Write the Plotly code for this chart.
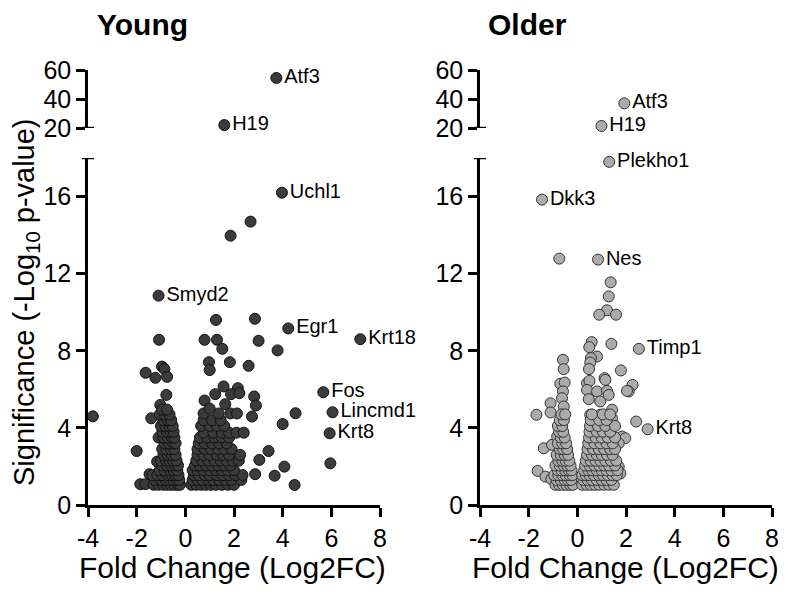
import plotly.graph_objects as go

# ---------------- DATA ----------------
# Young: labelled genes
young_genes = ["Atf3", "H19", "Uchl1", "Smyd2", "Egr1", "Krt18", "Fos", "Lincmd1", "Krt8"]
young_gene_x = [3.74, 1.60, 3.97, -1.10, 4.23, 7.19, 5.67, 6.05, 5.93]
young_gene_y = [54.5, 22.0, 16.2, 10.86, 9.16, 8.6, 5.85, 4.81, 3.72]

# Young: other scattered genes
young_x = [2.68, 1.86, 1.26, 2.86, -1.08, 0.79, 1.30, 1.52, 3.01, 3.79, 0.97, 1.83, 2.60, 1.00,
           -0.96, -0.86, -1.63, -1.23, -0.75, -0.78, 1.57, 2.16, 1.88, 2.22, 2.83, 2.90, 2.74,
           1.23, 0.79, 1.64, -1.03, 5.96, 4.53, 4.00, 3.42, 3.04, 2.87, 3.67, 4.07, 4.49, -3.80,
           -2.00, -1.85, -1.64, -1.47, -1.16, -1.40]
young_y = [14.7, 13.97, 9.6, 9.66, 8.57, 8.57, 8.57, 8.1, 8.52, 8.02, 7.41, 7.41, 7.22, 7.0,
           7.18, 7.05, 6.86, 6.6, 6.65, 5.71, 6.15, 6.06, 5.75, 5.8, 5.63, 5.16, 4.59,
           5.75, 5.42, 5.23, 5.19, 2.16, 4.76, 4.2, 2.8, 2.34, 1.6, 1.52, 1.99, 1.04, 4.6,
           2.8, 1.08, 1.08, 1.6, 2.25, 4.5]

# Young: dense down-regulated cluster
young_down_x = [-1.30, -1.10, -0.90, -0.75, -0.60, -0.45, -0.30, -0.22,
                -1.25, -1.00, -0.80, -0.65, -0.50, -0.35, -0.25,
                -1.35, -1.15, -0.95, -0.70, -0.55, -0.40, -0.28,
                -1.05, -0.85, -0.62, -0.48, -0.33,
                -0.95, -0.75, -0.58, -0.42, -0.30,
                -1.00, -0.80, -0.65, -0.50, -0.36,
                -0.90, -0.72, -0.55, -0.40,
                -0.95, -0.78, -0.60, -0.45,
                -0.85, -0.68, -0.50, -0.40,
                -1.10, -0.90, -0.72, -0.55, -0.45,
                -0.95, -0.75, -0.60, -0.48,
                -1.00, -0.82, -0.65, -0.52,
                -0.90, -0.72, -0.58,
                -1.05, -0.85, -0.65,
                -0.95, -0.75]
young_down_y = [1.05] * 8 + [1.3] * 7 + [1.55] * 7 + [1.8] * 5 + [2.05] * 5 + [2.3] * 5 + \
               [2.6] * 4 + [2.9] * 4 + [3.2] * 4 + [3.5] * 5 + [3.8] * 4 + [4.1] * 4 + \
               [4.4] * 3 + [4.7] * 3 + [4.95] * 2

# Young: dense up-regulated cluster
young_up_x = [0.25, 0.45, 0.65, 0.85, 1.05, 1.25, 1.50, 1.75, 2.00,
              0.30, 0.50, 0.70, 0.95, 1.15, 1.40, 1.65, 1.90, 2.30,
              0.35, 0.55, 0.80, 1.00, 1.30, 1.55, 1.80, 2.05, 2.35,
              0.30, 0.50, 0.75, 1.00, 1.25, 1.50, 1.75, 2.00,
              0.40, 0.60, 0.85, 1.10, 1.35, 1.60, 1.85,
              0.45, 0.70, 0.95, 1.20, 1.45, 1.70, 1.95, 2.20,
              0.50, 0.75, 1.00, 1.30, 1.55, 1.80, 2.25,
              0.50, 0.80, 1.05, 1.35, 1.60, 1.90,
              0.55, 0.80, 1.10, 1.40, 1.70,
              0.60, 0.90, 1.20, 1.50, 1.80,
              0.75, 1.15, 1.50, 1.80, 2.10, 2.40,
              0.65, 1.00, 1.30, 1.60,
              0.75, 1.10, 1.45,
              0.75, 1.37, 1.85, 2.12,
              1.00]
young_up_y = [1.05] * 9 + [1.3] * 9 + [1.55] * 9 + [1.8] * 8 + [2.05] * 7 + [2.3] * 8 + \
             [2.6] * 7 + [2.9] * 6 + [3.2] * 5 + [3.5] * 5 + [3.75] * 6 + [4.1] * 4 + \
             [4.4] * 3 + [4.75] * 4 + [5.0] * 1

# Older: labelled genes
older_genes = ["Atf3", "H19", "Plekho1", "Dkk3", "Nes", "Timp1", "Krt8"]
older_gene_x = [1.93, 0.99, 1.31, -1.45, 0.85, 2.53, 2.89]
older_gene_y = [37.0, 21.4, 17.8, 15.84, 12.73, 8.1, 3.93]

# Older: other scattered genes
older_x = [-0.74, 1.37, 1.29, 1.22, 0.90, 1.59, 1.40, 0.59, 0.49, 0.81, 0.56, 0.53, 0.48, -0.59,
           -0.56, 1.79, 1.12, 2.42, 2.27, 2.11, -1.68, -1.10, -1.10, -1.38, -1.04, -1.63, -1.31,
           -1.07, -0.70, -0.52, -0.59, 0.40, 0.50, 1.15, 0.40, 0.81, 1.22, 1.29, 0.94, 0.47,
           2.04, -0.63, -0.56, 0.53, 0.94, 1.43, 1.43, 1.84, 1.97, 1.70, 1.70, 1.77, -0.83]
older_y = [12.78, 11.55, 10.82, 10.1, 9.87, 9.87, 8.36, 8.45, 8.19, 7.7, 7.62, 7.39, 7.05, 7.53,
           7.05, 6.98, 6.58, 4.33, 6.23, 5.89, 4.68, 5.28, 4.8, 2.94, 3.12, 1.77, 1.47,
           1.34, 6.29, 6.35, 5.89, 6.32, 6.44, 6.49, 5.97, 5.89, 5.92, 5.71, 5.37, 5.49,
           5.92, 5.54, 5.11, 4.68, 4.68, 4.94, 4.5, 3.55, 3.46, 3.2, 1.99, 1.64, 3.55]

# Older: dense down-regulated cluster
older_down_x = [-0.90, -0.75, -0.60, -0.45, -0.30, -0.18,
                -0.85, -0.68, -0.52, -0.38, -0.25,
                -0.95, -0.78, -0.62, -0.48, -0.32, -0.20,
                -0.80, -0.65, -0.50, -0.35, -0.24,
                -0.90, -0.72, -0.56, -0.42, -0.28,
                -0.78, -0.62, -0.48, -0.33,
                -0.85, -0.68, -0.52, -0.38,
                -0.72, -0.58, -0.42,
                -0.80, -0.62, -0.46,
                -0.68, -0.52,
                -0.75, -0.58,
                -0.80, -0.62,
                -0.72, -0.55,
                -0.65, -0.50]
older_down_y = [1.05] * 6 + [1.3] * 5 + [1.55] * 6 + [1.8] * 5 + [2.05] * 5 + [2.3] * 4 + \
               [2.6] * 4 + [2.9] * 3 + [3.2] * 3 + [3.5] * 2 + [3.8] * 2 + [4.1] * 2 + \
               [4.4] * 2 + [4.7] * 2

# Older: dense up-regulated cluster
older_up_x = [0.20, 0.38, 0.55, 0.72, 0.90, 1.10, 1.30, 1.50,
              0.25, 0.42, 0.60, 0.80, 1.00, 1.20, 1.40,
              0.20, 0.35, 0.50, 0.68, 0.88, 1.05, 1.25, 1.45, 1.62,
              0.28, 0.45, 0.62, 0.80, 1.00, 1.20, 1.40, 1.65,
              0.32, 0.50, 0.70, 0.90, 1.10, 1.30, 1.55,
              0.35, 0.55, 0.75, 0.95, 1.15, 1.38, 1.60,
              0.40, 0.60, 0.80, 1.00, 1.22, 1.45,
              0.42, 0.65, 0.88, 1.10, 1.35, 1.55,
              0.45, 0.70, 0.95, 1.20, 1.45,
              0.48, 0.75, 1.00, 1.25, 1.55,
              0.50, 0.80, 1.05, 1.35,
              0.52, 0.85, 1.15, 1.55,
              0.55, 0.90, 1.20,
              0.60, 1.05, 1.35]
older_up_y = [1.05] * 8 + [1.3] * 7 + [1.55] * 9 + [1.8] * 8 + [2.05] * 7 + [2.3] * 7 + \
             [2.6] * 6 + [2.9] * 6 + [3.2] * 5 + [3.5] * 5 + [3.8] * 4 + [4.1] * 4 + \
             [4.4] * 3 + [4.7] * 3

x_ticks = [-4, -2, 0, 2, 4, 6, 8]
x_tick_labels = ["-4", "-2", "0", "2", "4", "6", "8"]
y_ticks_low = [0, 4, 8, 12, 16]
y_ticks_high = [20, 40, 60]
BREAK = 19

# ---------------- LAYOUT CONSTANTS ----------------
OFF = 8                      # default page body margin
W, H = 787 - OFF, 595 - OFF
FONT = "Liberation Sans, Arial, Helvetica, sans-serif"


def px_x(p):
    return (p - OFF) / W


def px_y(p):
    return 1 - (p - OFF) / H


low_dom = [px_y(505), px_y(158)]
high_dom = [px_y(128), px_y(70)]
left_dom = [px_x(88), px_x(380)]
right_dom = [px_x(480), px_x(772)]

fig = go.Figure()


def split(xs, ys):
    lo = [(a, b) for a, b in zip(xs, ys) if b < BREAK]
    hi = [(a, b) for a, b in zip(xs, ys) if b >= BREAK]
    return lo, hi


def add_panel(xs, ys, gx, gy, gn, xa, ya_low, ya_high, fill, edge):
    marker = dict(size=11, color=fill, line=dict(color=edge, width=1))
    lo, hi = split(xs, ys)
    for pts, ya in ((lo, ya_low), (hi, ya_high)):
        if pts:
            fig.add_trace(go.Scatter(
                x=[p[0] for p in pts], y=[p[1] for p in pts], mode="markers",
                marker=marker, xaxis=xa, yaxis=ya, cliponaxis=False,
                showlegend=False, hoverinfo="skip"))
    glo = [(a, b, n) for a, b, n in zip(gx, gy, gn) if b < BREAK]
    ghi = [(a, b, n) for a, b, n in zip(gx, gy, gn) if b >= BREAK]
    for pts, ya in ((glo, ya_low), (ghi, ya_high)):
        if pts:
            fig.add_trace(go.Scatter(
                x=[p[0] for p in pts], y=[p[1] for p in pts],
                text=[p[2] for p in pts], mode="markers+text",
                textposition="middle right",
                textfont=dict(family=FONT, size=20, color="black"),
                marker=marker, xaxis=xa, yaxis=ya, cliponaxis=False,
                showlegend=False, hoverinfo="skip"))


add_panel(young_x + young_down_x + young_up_x, young_y + young_down_y + young_up_y,
          young_gene_x, young_gene_y, young_genes, "x", "y", "y3", "#3b3b3b", "#111111")
add_panel(older_x + older_down_x + older_up_x, older_y + older_down_y + older_up_y,
          older_gene_x, older_gene_y, older_genes, "x2", "y2", "y4", "#ababab", "#333333")

axis_common = dict(showline=True, linecolor="black", linewidth=2.5, ticks="outside",
                   ticklen=9, tickwidth=2.5, tickcolor="black", showgrid=False,
                   zeroline=False, automargin=False,
                   tickfont=dict(family=FONT, size=25, color="black"))
xaxis_common = dict(range=[-4, 8], tickvals=x_ticks, ticktext=x_tick_labels, **axis_common)

fig.update_layout(
    width=W, height=H, margin=dict(l=0, r=0, t=0, b=0),
    paper_bgcolor="white", plot_bgcolor="white",
    xaxis=dict(domain=left_dom, anchor="y", **xaxis_common),
    yaxis=dict(domain=low_dom, anchor="x", range=[0, 18], tickvals=y_ticks_low, **axis_common),
    yaxis3=dict(domain=high_dom, anchor="x", range=[20, 60], tickvals=y_ticks_high, **axis_common),
    xaxis2=dict(domain=right_dom, anchor="y2", **xaxis_common),
    yaxis2=dict(domain=low_dom, anchor="x2", range=[0, 18], tickvals=y_ticks_low, **axis_common),
    yaxis4=dict(domain=high_dom, anchor="x2", range=[20, 60], tickvals=y_ticks_high, **axis_common),
)

# axis-break caps
for xd, ylo, yhi in (("x domain", "y", "y3"), ("x2 domain", "y2", "y4")):
    half = 6 / 292
    fig.add_shape(type="line", xref=xd, yref=ylo, x0=-half, x1=half, y0=18, y1=18,
                  line=dict(color="black", width=2.5))
    fig.add_shape(type="line", xref=xd, yref=yhi, x0=-half, x1=half, y0=20, y1=20,
                  line=dict(color="black", width=2.5))


def note(text, xp, yp, size, angle=0):
    fig.add_annotation(text=text, x=px_x(xp), y=px_y(yp), xref="paper", yref="paper",
                       xanchor="center", yanchor="middle", showarrow=False, textangle=angle,
                       font=dict(family=FONT, size=size, color="black"))


note("<b>Young</b>", 142, 24, 30)
note("<b>Older</b>", 527, 24, 30)
note("Fold Change (Log2FC)", 233, 567, 30)
note("Fold Change (Log2FC)", 625, 567, 30)
note("Significance (-Log<sub>10</sub> p-value)", 26, 302, 29, -90)

fig.write_html("out.html")
